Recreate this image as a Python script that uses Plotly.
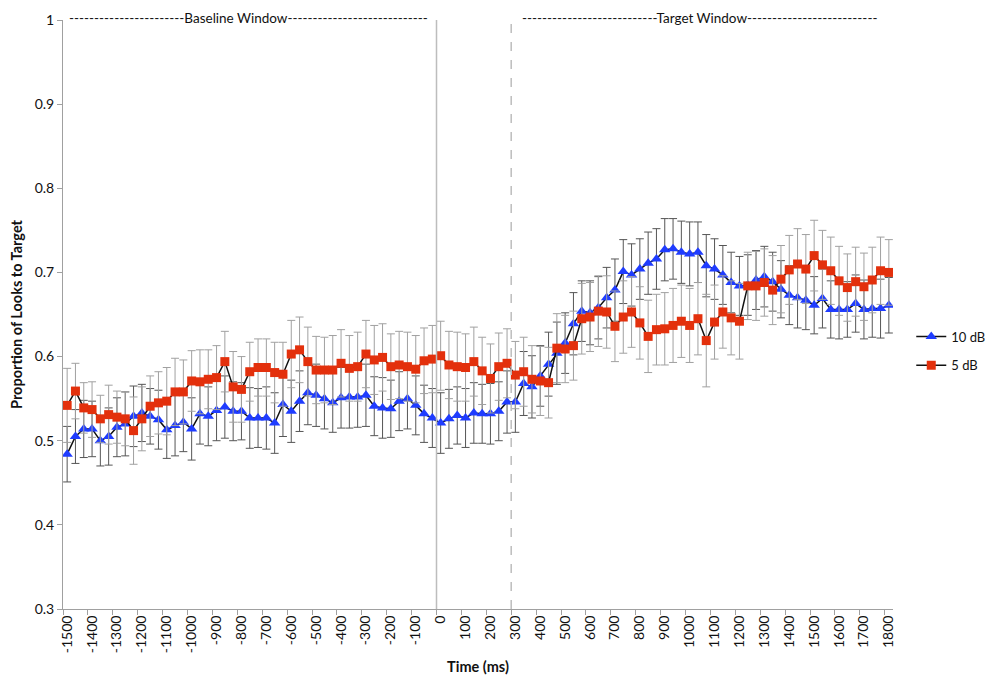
import plotly.graph_objects as go

# ---------------- data ----------------
SAMPLE_MS = 100 / 3  # 30 Hz sampling
times = [-1500 + i * SAMPLE_MS for i in range(100)]

tick_labels = [str(v) for v in range(-1500, 1801, 100)]

db10 = [0.484, 0.505, 0.514, 0.514, 0.500, 0.505, 0.516, 0.520, 0.529, 0.533,
        0.529, 0.525, 0.513, 0.518, 0.522, 0.514, 0.532, 0.529, 0.536, 0.540,
        0.535, 0.535, 0.527, 0.527, 0.527, 0.521, 0.543, 0.535, 0.547, 0.557,
        0.554, 0.550, 0.545, 0.551, 0.552, 0.552, 0.554, 0.541, 0.539, 0.538,
        0.547, 0.550, 0.542, 0.532, 0.527, 0.521, 0.526, 0.530, 0.527, 0.533,
        0.532, 0.532, 0.535, 0.546, 0.546, 0.568, 0.564, 0.577, 0.591, 0.604,
        0.616, 0.639, 0.654, 0.652, 0.658, 0.670, 0.679, 0.701, 0.697, 0.704,
        0.711, 0.716, 0.727, 0.728, 0.724, 0.722, 0.724, 0.708, 0.704, 0.697,
        0.688, 0.684, 0.685, 0.691, 0.695, 0.689, 0.680, 0.673, 0.670, 0.667,
        0.661, 0.669, 0.656, 0.656, 0.656, 0.663, 0.656, 0.657, 0.657, 0.661]

db5 = [0.542, 0.559, 0.539, 0.537, 0.526, 0.531, 0.528, 0.526, 0.512, 0.526,
       0.541, 0.545, 0.547, 0.558, 0.558, 0.571, 0.570, 0.573, 0.575, 0.594,
       0.564, 0.561, 0.582, 0.587, 0.587, 0.581, 0.579, 0.603, 0.608, 0.594,
       0.584, 0.584, 0.584, 0.592, 0.586, 0.588, 0.603, 0.596, 0.599, 0.588,
       0.590, 0.588, 0.585, 0.595, 0.597, 0.601, 0.590, 0.588, 0.587, 0.594,
       0.583, 0.574, 0.588, 0.592, 0.578, 0.582, 0.573, 0.571, 0.569, 0.610,
       0.609, 0.613, 0.645, 0.647, 0.654, 0.653, 0.636, 0.647, 0.653, 0.640,
       0.624, 0.632, 0.633, 0.637, 0.642, 0.637, 0.645, 0.619, 0.641, 0.653,
       0.646, 0.642, 0.684, 0.684, 0.688, 0.679, 0.692, 0.703, 0.710, 0.704,
       0.720, 0.709, 0.702, 0.690, 0.682, 0.689, 0.683, 0.691, 0.702, 0.700]

db10_err = [0.033, 0.032, 0.034, 0.033, 0.030, 0.034, 0.035, 0.038, 0.036, 0.034,
            0.033, 0.035, 0.034, 0.036, 0.035, 0.037, 0.036, 0.035, 0.036, 0.037,
            0.035, 0.034, 0.036, 0.035, 0.037, 0.036, 0.038, 0.037, 0.036, 0.038,
            0.037, 0.036, 0.035, 0.036, 0.037, 0.036, 0.037, 0.035, 0.036, 0.034,
            0.035, 0.036, 0.035, 0.034, 0.035, 0.036, 0.035, 0.034, 0.035, 0.036,
            0.035, 0.036, 0.035, 0.037, 0.036, 0.038, 0.037, 0.036, 0.038, 0.037,
            0.036, 0.037, 0.036, 0.038, 0.037, 0.036, 0.037, 0.038, 0.037, 0.036,
            0.037, 0.036, 0.037, 0.036, 0.037, 0.038, 0.036, 0.037, 0.036, 0.035,
            0.036, 0.035, 0.036, 0.035, 0.036, 0.035, 0.034, 0.035, 0.036, 0.035,
            0.034, 0.035, 0.034, 0.035, 0.033, 0.034, 0.035, 0.034, 0.035, 0.033]

db5_err = [0.044, 0.033, 0.030, 0.033, 0.028, 0.035, 0.031, 0.032, 0.040, 0.038,
           0.036, 0.037, 0.040, 0.040, 0.038, 0.036, 0.038, 0.035, 0.038, 0.036,
           0.042, 0.039, 0.035, 0.034, 0.034, 0.036, 0.038, 0.040, 0.039, 0.041,
           0.040, 0.039, 0.041, 0.040, 0.039, 0.041, 0.040, 0.041, 0.040, 0.039,
           0.040, 0.041, 0.040, 0.039, 0.040, 0.041, 0.040, 0.041, 0.040, 0.041,
           0.040, 0.041, 0.040, 0.041, 0.040, 0.041, 0.040, 0.041, 0.042, 0.041,
           0.040, 0.041, 0.042, 0.041, 0.042, 0.043, 0.042, 0.043, 0.042, 0.043,
           0.043, 0.042, 0.043, 0.044, 0.043, 0.044, 0.043, 0.055, 0.044, 0.043,
           0.044, 0.045, 0.040, 0.041, 0.040, 0.041, 0.040, 0.041, 0.042, 0.041,
           0.042, 0.041, 0.040, 0.041, 0.040, 0.041, 0.040, 0.039, 0.040, 0.039]

BASELINE_END = 0
TARGET_START = 300

# ---------------- figure ----------------
FONT = "Lato, 'Open Sans', Arial, sans-serif"
half = SAMPLE_MS / 2
xr = [times[0] - half, times[-1] + half]

fig = go.Figure()
fig.add_trace(go.Scatter(
    x=times, y=db10, name="10 dB", mode="lines+markers", legendgroup="a",
    line=dict(color="#111111", width=1.5),
    marker=dict(symbol="triangle-up", size=10, color="#1f3cff"),
    error_y=dict(type="data", array=db10_err, visible=True,
                 color="#555555", thickness=1, width=4),
))
fig.add_trace(go.Scatter(
    x=times, y=db5, name="5 dB", mode="lines+markers", legendgroup="b",
    line=dict(color="#111111", width=1.5),
    marker=dict(symbol="square", size=9, color="#e3300c"),
    error_y=dict(type="data", array=db5_err, visible=True,
                 color="#a0a0a0", thickness=1, width=4),
))
# invisible trace carrying the boundary tick marks on xaxis2
fig.add_trace(go.Scatter(x=[times[0]], y=[None], xaxis="x2", showlegend=False,
                         hoverinfo="skip"))

# window lines
fig.add_shape(type="line", xref="x", yref="paper",
              x0=BASELINE_END - half, x1=BASELINE_END - half, y0=0, y1=1,
              line=dict(color="#bdbdbd", width=1.5))
fig.add_shape(type="line", xref="x", yref="paper",
              x0=TARGET_START - half, x1=TARGET_START - half, y0=0, y1=1,
              line=dict(color="#bdbdbd", width=1.5, dash="dash"))

fig.add_annotation(x=(times[0] + BASELINE_END) / 2 - 20, y=1, xref="x", yref="paper",
                   text="-" * 23 + "Baseline Window" + "-" * 28,
                   showarrow=False, yanchor="middle", yshift=2,
                   font=dict(family=FONT, size=13.5, color="#111"))
fig.add_annotation(x=(TARGET_START + times[-1]) / 2 - 10, y=1, xref="x", yref="paper",
                   text="-" * 27 + "Target Window" + "-" * 26,
                   showarrow=False, yanchor="middle", yshift=2,
                   font=dict(family=FONT, size=13.5, color="#111"))

fig.update_layout(
    width=989, height=675,
    margin=dict(l=63, r=96, t=20, b=66, autoexpand=False),
    paper_bgcolor="white", plot_bgcolor="white",
    font=dict(family=FONT, size=14, color="#111"),
    showlegend=True,
    legend=dict(x=1.022, y=0.438, xanchor="left", yanchor="middle",
                tracegroupgap=9, font=dict(size=13), bgcolor="rgba(0,0,0,0)",
                borderwidth=0),
    xaxis=dict(range=xr, tickvals=list(range(-1500, 1801, 100)), ticktext=tick_labels,
               tickangle=-90, ticks="", showgrid=False, zeroline=False,
               showline=True, linecolor="#a0a0a0", linewidth=1,
               tickfont=dict(size=14), automargin=False,
               title=dict(text="<b>Time (ms)</b>", font=dict(size=14.5), standoff=10)),
    xaxis2=dict(range=xr, overlaying="x", anchor="y", side="bottom",
                tickvals=[v - half for v in range(-1500, 1801, 100)],
                showticklabels=False, ticks="outside", ticklen=5, automargin=False,
                tickcolor="#a0a0a0", showgrid=False, zeroline=False, showline=False),
    yaxis=dict(range=[0.3, 1.0], tickvals=[0.3, 0.4, 0.5, 0.6, 0.7, 0.8, 0.9, 1.0],
               ticktext=["0.3", "0.4", "0.5", "0.6", "0.7", "0.8", "0.9", "1"],
               ticks="outside", ticklen=5, tickcolor="#a0a0a0", automargin=False,
               showgrid=False, zeroline=False, showline=True,
               linecolor="#a0a0a0", linewidth=1, tickfont=dict(size=14),
               title=dict(text="<b>Proportion of Looks to Target</b>",
                          font=dict(size=14.5), standoff=8)),
)

fig.write_html("out.html", config={"displayModeBar": False},
               post_script="document.body.style.margin='0';"
                           "document.body.style.overflow='hidden';")
